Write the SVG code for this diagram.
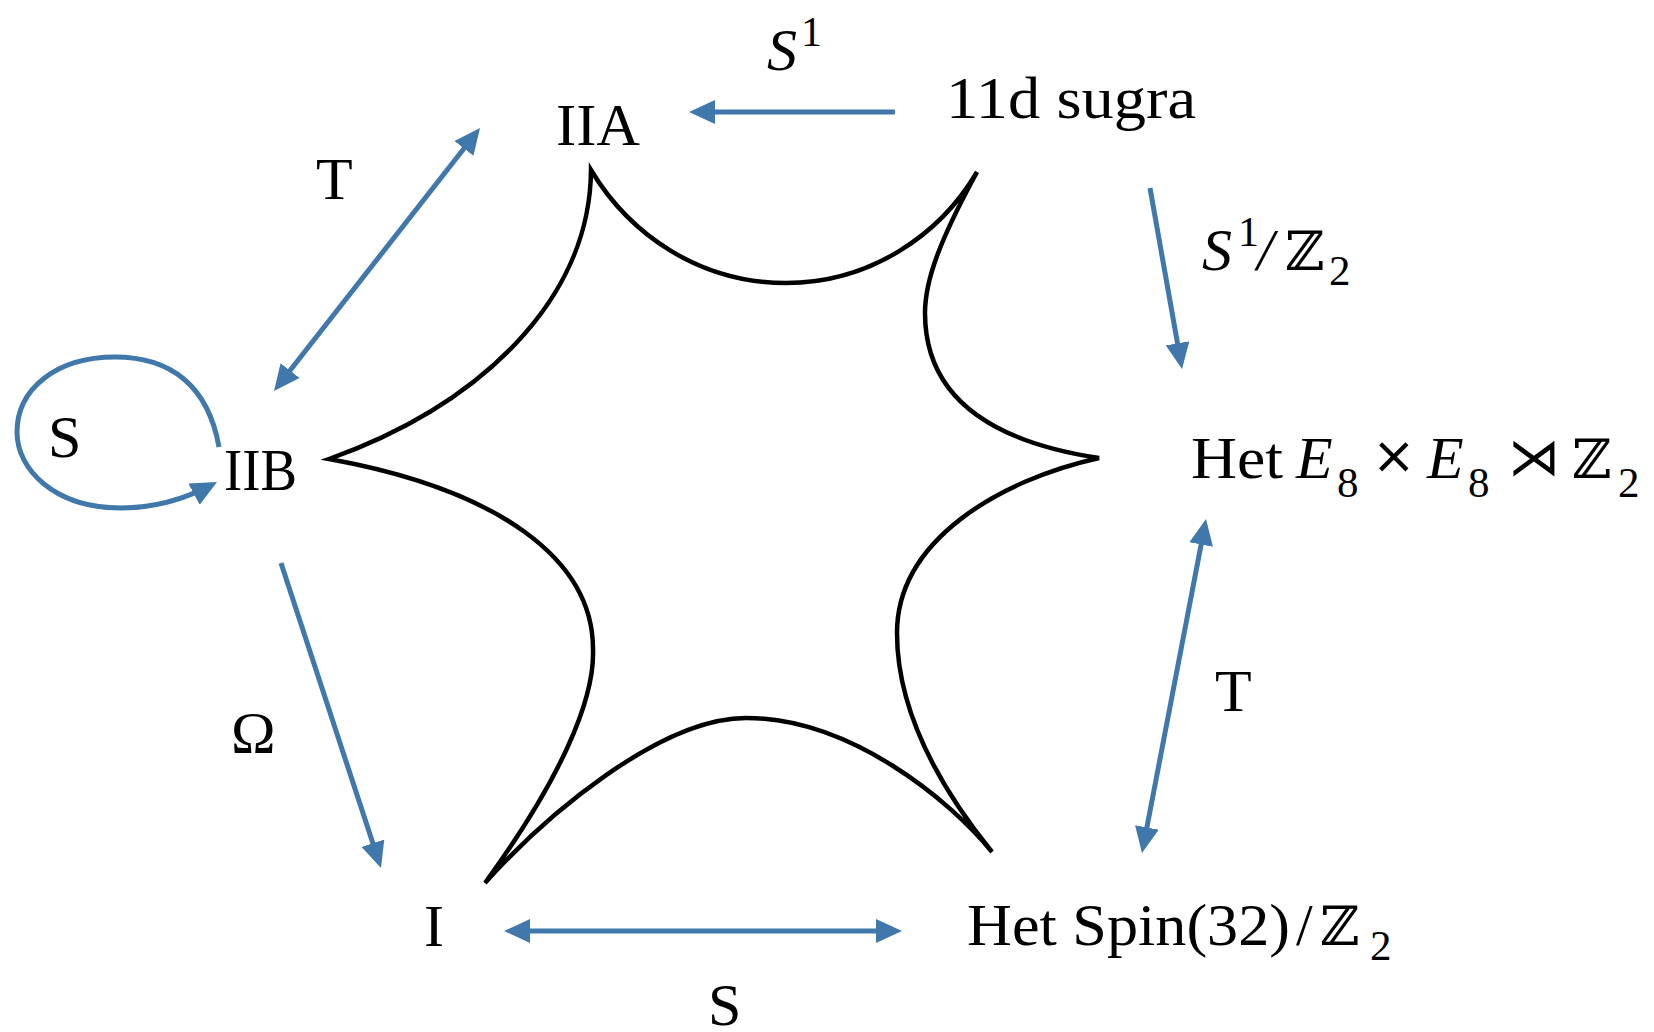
<svg xmlns="http://www.w3.org/2000/svg" width="1654" height="1032" viewBox="0 0 1654 1032">
<style>
.t{font-family:"Liberation Serif","Times New Roman",serif;font-size:60px;fill:#000}
.it{font-style:italic}
.sub{font-size:43px}
.sup{font-size:42px}
.bb{font-family:"DejaVu Serif","DejaVu Sans",serif;font-size:54px}
.op{font-family:"DejaVu Sans",sans-serif;font-size:52px}
.c{fill:none;stroke:#4178AC;stroke-width:5}
.star{fill:none;stroke:#000;stroke-width:4.5;stroke-linejoin:miter}
</style>
<defs>
<marker id="ah" viewBox="0 0 26 24" refX="20" refY="12" markerWidth="26" markerHeight="24" markerUnits="userSpaceOnUse" orient="auto-start-reverse">
<path d="M0,0 L26,12 L0,24 z" fill="#4178AC"/>
</marker>
</defs>
<rect width="1654" height="1032" fill="#fff"/>

<g id="moduli-space">
<path class="star" d="M591,170 C630,235 700,283 786,283 C870,283 940,235 977,172 C940,240 925,280 925,313 C925,390 980,440 1099,458 C1000,480 897,540 897,633 C897,720 950,800 992,852 C950,800 850,718 746,718 C660,718 545,816 485,883 C560,780 595,700 593,649 C593,560 500,490 329,459 C480,405 590,300 591,170 Z"/>
</g>

<g id="connectors">
<path class="c" d="M895,112 L695,112" marker-end="url(#ah)"/>
<path class="c" d="M277.7,386.3 L476.3,132.7" marker-start="url(#ah)" marker-end="url(#ah)"/>
<path class="c" d="M1150,188 L1181,363" marker-end="url(#ah)"/>
<path class="c" d="M1204.9,524.9 L1143.1,847.1" marker-start="url(#ah)" marker-end="url(#ah)"/>
<path class="c" d="M510,931 L896,931" marker-start="url(#ah)" marker-end="url(#ah)"/>
<path class="c" d="M281,563 L379.1,862.3" marker-end="url(#ah)"/>
<path class="c" d="M219,447 C208,385 170,357 115,357 C55,357 17,390 17,432 C17,470 55,508 121,508 C155,508 185,499 211.7,484.8" marker-end="url(#ah)"/>
<text class="t it" x="767" y="70">S</text><text class="t sup" x="801" y="46">1</text>
<text class="t" x="316" y="199">T</text>
<text class="t" x="48" y="457">S</text>
<text class="t it" x="1202" y="270">S</text><text class="t sup" x="1238" y="246">1</text><text class="t it" x="1257" y="270">/</text><text class="bb" x="1285" y="270">ℤ</text><text class="t sub" x="1329" y="285">2</text>
<text class="t" x="1215" y="711">T</text>
<text class="t" x="231" y="753">Ω</text>
<text class="t" x="708" y="1025">S</text>
</g>

<g id="node-IIA"><text class="t" x="556" y="145" textLength="84" lengthAdjust="spacingAndGlyphs">IIA</text></g>
<g id="node-11d"><text class="t" x="946" y="118" textLength="250" lengthAdjust="spacingAndGlyphs">11d sugra</text></g>
<g id="node-IIB"><text class="t" x="224" y="490" textLength="73" lengthAdjust="spacingAndGlyphs">IIB</text></g>
<g id="node-I"><text class="t" x="424" y="946">I</text></g>
<g id="node-hetE8">
<text class="t" x="1191" y="478" textLength="92" lengthAdjust="spacingAndGlyphs">Het</text>
<text class="t it" x="1296" y="478">E</text><text class="t sub" x="1337" y="497">8</text>
<text class="op" x="1372" y="473">×</text>
<text class="t it" x="1427" y="478">E</text><text class="t sub" x="1468" y="497">8</text>
<text class="op" x="1508" y="475">⋊</text>
<text class="bb" x="1572" y="478">ℤ</text><text class="t sub" x="1618" y="497">2</text>
</g>
<g id="node-hetSpin">
<text class="t" x="967" y="945" textLength="323" lengthAdjust="spacingAndGlyphs">Het Spin(32)</text>
<text class="t" x="1296" y="945">/</text>
<text class="bb" x="1320" y="945">ℤ</text><text class="t sub" x="1370" y="960">2</text>
</g>
</svg>
